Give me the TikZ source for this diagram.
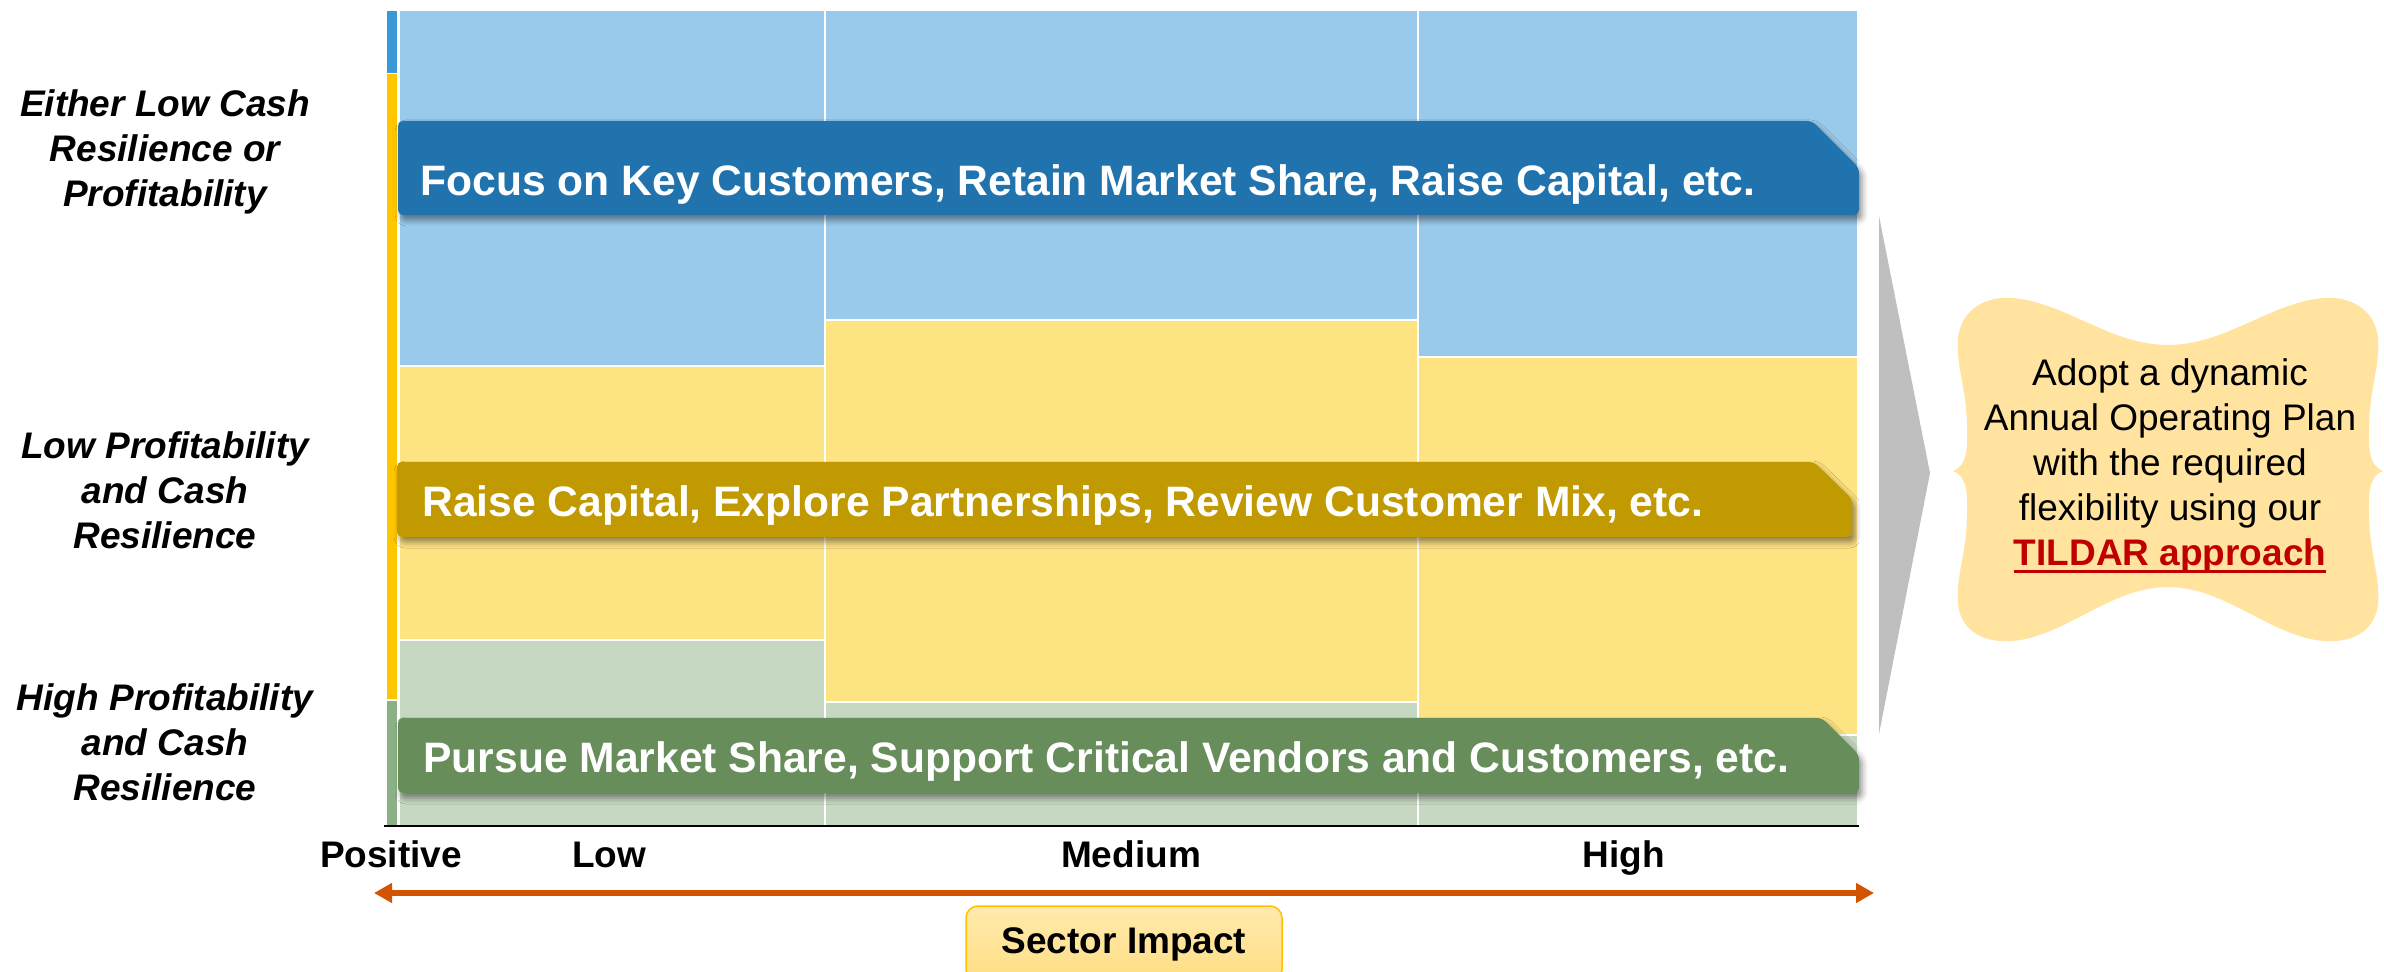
\documentclass[tikz,border=0pt]{standalone}
\usepackage{fontspec}
\setmainfont{Liberation Sans}
\usetikzlibrary{arrows.meta,shadows.blur}

\definecolor{cellblue}{HTML}{9ACAEB}
\definecolor{cellyellow}{HTML}{FEE383}
\definecolor{cellgreen}{HTML}{C6D8C2}
\definecolor{barblue}{HTML}{3A97D8}
\definecolor{baryellow}{HTML}{FFC600}
\definecolor{bargreen}{HTML}{8CB085}
\definecolor{bannerblue}{HTML}{2073AD}
\definecolor{bannergold}{HTML}{C09A00}
\definecolor{bannergreen}{HTML}{668D5A}
\definecolor{chevrongray}{HTML}{BFBFBF}
\definecolor{planfill}{HTML}{FFE39F}
\definecolor{tildarred}{HTML}{C00000}
\definecolor{impactorange}{HTML}{D35400}
\definecolor{impactfill}{HTML}{FFE49A}
\definecolor{impactdraw}{HTML}{FFC000}

% underline that runs through the descenders
\newcommand{\tildarline}[1]{\setbox0\hbox{#1}\rlap{\rule[-3.75pt]{\wd0}{1.5pt}}\box0}

\begin{document}
\begin{tikzpicture}[x=0.5pt, y=-0.5pt,
    cellbox/.style={draw=white, line width=1pt},
    bannerbox/.style={rounded corners=2.5pt, blur shadow={shadow xshift=1.5pt, shadow yshift=-2.5pt, shadow blur radius=3pt, shadow opacity=45}},
    bannertext/.style={anchor=base west, inner sep=0pt, text=white, font=\fontsize{21.3}{25}\selectfont\bfseries},
    rowlabel/.style={align=center, inner sep=0pt, font=\fontsize{18.5}{22.5}\selectfont\bfseries\itshape},
    impactlabel/.style={anchor=base, inner sep=0pt, font=\fontsize{18.5}{22}\selectfont\bfseries},
    impactbox/.style={rounded corners=6pt, draw=impactdraw, line width=0.75pt, top color=impactfill!80!white, bottom color=impactfill!85!impactdraw, minimum width=158pt, minimum height=38pt, inner sep=0pt, font=\fontsize{18.5}{22}\selectfont\bfseries},
    impactarrow/.style={draw=impactorange, line width=3pt, {Triangle[length=9pt,width=9.5pt]}-{Triangle[length=9pt,width=9.5pt]}},
    plannode/.style={align=center, inner sep=0pt, font=\fontsize{18.5}{22.5}\selectfont},
]
\useasboundingbox (0,0) rectangle (2384,972);
\clip (0,0) rectangle (2384,972);

% cells: low, medium, high
\path[cellbox, fill=cellblue]   (399,10)   rectangle (825,366);
\path[cellbox, fill=cellyellow] (399,366)  rectangle (825,640);
\path[cellbox, fill=cellgreen]  (399,640)  rectangle (825,827);
\path[cellbox, fill=cellblue]   (825,10)   rectangle (1418,320);
\path[cellbox, fill=cellyellow] (825,320)  rectangle (1418,702);
\path[cellbox, fill=cellgreen]  (825,702)  rectangle (1418,827);
\path[cellbox, fill=cellblue]   (1418,10)  rectangle (1858,357);
\path[cellbox, fill=cellyellow] (1418,357) rectangle (1858,735);
\path[cellbox, fill=cellgreen]  (1418,735) rectangle (1858,827);

% thin bar on the left
\fill[barblue]   (387,11)  rectangle (397,73);
\fill[baryellow] (387,74)  rectangle (397,699);
\fill[bargreen]  (387,701) rectangle (397,826);

\draw[line width=0.7pt] (384,826) -- (1859,826);

% banners
\path[bannerbox, fill=bannerblue]  (398,121) -- (1812,121) -- (1859,168) -- (1859,215) -- (398,215) -- cycle;
\path[bannerbox, fill=bannergold]  (397,462) -- (1814,462) -- (1852,499) -- (1852,537) -- (397,537) -- cycle;
\path[bannerbox, fill=bannergreen] (398,718) -- (1822,718) -- (1859,755) -- (1859,793) -- (398,793) -- cycle;

\node[bannertext] (focus)  at (420,196) {Focus on Key Customers, Retain Market Share, Raise Capital, etc.};
\node[bannertext] (raise)  at (422,517) {Raise Capital, Explore Partnerships, Review Customer Mix, etc.};
\node[bannertext] (pursue) at (423,773) {Pursue Market Share, Support Critical Vendors and Customers, etc.};

% row labels
\node[rowlabel] (eitherlow) at (165,152) {Either Low Cash\\Resilience or\\Profitability};
\node[rowlabel] (lowprof)   at (165,490) {Low Profitability\\and Cash\\Resilience};
\node[rowlabel] (highprof)  at (165,742) {High Profitability\\and Cash\\Resilience};

% impact scale
\node[impactlabel] (positive) at (391,867)  {Positive};
\node[impactlabel] (low)      at (609,867)  {Low};
\node[impactlabel] (medium)   at (1131,867) {Medium};
\node[impactlabel] (high)     at (1624,867) {High};

\coordinate (impactL) at (374,893);
\coordinate (impactR) at (1874,893);
\draw[impactarrow] (impactL) -- (impactR);

\node[impactbox] (sector) at (1124,944) {Sector Impact};

% chevron and plan
\fill[chevrongray] (1879,216) -- (1930,473) -- (1879,734) -- cycle;

\fill[planfill] (1953,471)
  .. controls (1966,466) and (1968,452) .. (1967,425)
  .. controls (1966,385) and (1956,368) .. (1958,338)
  .. controls (1961,310) and (1985,296) .. (2012,298)
  .. controls (2065,302) and (2110,345) .. (2168,345)
  .. controls (2226,345) and (2271,302) .. (2324,298)
  .. controls (2351,296) and (2375,310) .. (2378,338)
  .. controls (2380,368) and (2370,385) .. (2369,425)
  .. controls (2368,452) and (2370,466) .. (2383,471)
  .. controls (2370,476) and (2368,490) .. (2369,517)
  .. controls (2370,557) and (2380,574) .. (2378,604)
  .. controls (2375,632) and (2351,643) .. (2324,641)
  .. controls (2271,637) and (2226,587) .. (2168,587)
  .. controls (2110,587) and (2065,637) .. (2012,641)
  .. controls (1985,643) and (1961,632) .. (1958,604)
  .. controls (1956,574) and (1966,557) .. (1967,517)
  .. controls (1968,490) and (1966,476) .. (1953,471) -- cycle;

\node[plannode] (plan) at (2170,466) {Adopt a dynamic\\Annual Operating Plan\\with the required\\flexibility using our\\{\color{tildarred}\bfseries\tildarline{TILDAR approach}}};
\end{tikzpicture}
\end{document}
